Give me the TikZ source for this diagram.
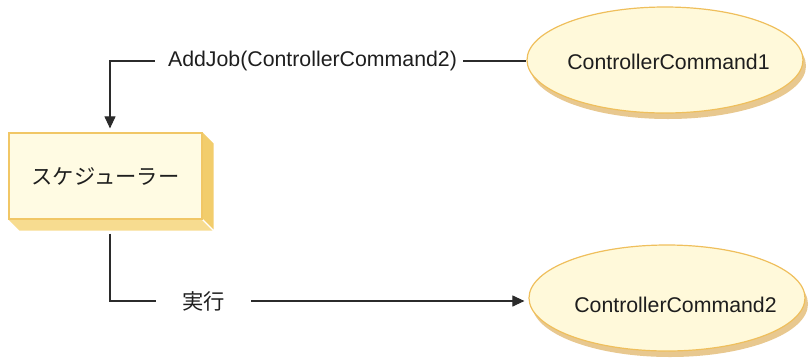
\documentclass[tikz,border=0pt]{standalone}
\usepackage{fontspec}
\setmainfont{Liberation Sans}
\newfontfamily\jpfont{Noto Sans CJK JP}
\usetikzlibrary{arrows.meta,shapes.geometric,shadows,backgrounds}
\definecolor{ellfill}{HTML}{FFF9DA}
\definecolor{ellline}{HTML}{EFBF5C}
\definecolor{ellshadow}{HTML}{E8C88F}
\definecolor{boxfill}{HTML}{FFFBE3}
\definecolor{boxline}{HTML}{F1C766}
\definecolor{sideR}{HTML}{F2CD6C}
\definecolor{sideB}{HTML}{F7DC90}
\definecolor{linec}{HTML}{2B2B2B}
\definecolor{textc}{HTML}{1E1E1E}
\begin{document}
\begin{tikzpicture}[x=1pt,y=-1pt,
  every node/.style={text=textc},
  bigfont/.style={font=\fontsize{21.3}{25}\selectfont},
  cmd/.style={ellipse, draw=ellline, line width=1.2pt, fill=ellfill,
    minimum width=276pt, minimum height=106pt, inner sep=0pt,
    general shadow={fill=ellshadow, shadow xshift=3pt, shadow yshift=-6pt}},
  schedbox/.style={rectangle, draw=boxline, line width=1.2pt, fill=boxfill,
    minimum width=193pt, minimum height=86pt, inner sep=0pt, bigfont},
  lbl/.style={bigfont, inner sep=0pt, minimum height=26pt},
  conn/.style={draw=linec, line width=1.1pt},
  tip/.style={-{Triangle[width=11pt,length=12pt]}, shorten >=4pt}
]
\useasboundingbox (0,0) rectangle (809,357);

% scheduler box with 3D sides
\node[schedbox] (box) at (105.5,176) {\jpfont スケジューラー};
\begin{scope}[on background layer]
  \fill[sideR] (box.north east) -- ++(11,11) -- ++(0,86) -- ++(-11,-11) -- cycle;
  \fill[sideB] (box.south west) -- ++(11,11) -- ++(193,0) -- ++(-11,-11) -- cycle;
\end{scope}

% ellipses
\node[cmd] (c1) at (665,60) {};
\node[bigfont] (c1t) at (668.5,62) {ControllerCommand1};
\node[cmd] (c2) at (667,298) {};
\node[bigfont] (c2t) at (675.5,305) {ControllerCommand2};

\coordinate (tx) at (110,0);

% labels
\node[lbl, minimum width=308pt] (lab1) at (309,61) {\hspace*{7pt}AddJob(ControllerCommand2)};
\node[lbl, minimum width=95pt] (lab2) at (203.5,301) {\jpfont 実行};

% connectors
\draw[conn] (lab1.east) -- (lab1.east -| c1.west);
\draw[conn, tip] (lab1.west) -| (box.north -| tx);
\draw[conn] ([yshift=-14pt]box.south -| tx) |- (lab2.west);
\draw[conn, tip] (lab2.east) -- (lab2.east -| c2.west);
\end{tikzpicture}
\end{document}
